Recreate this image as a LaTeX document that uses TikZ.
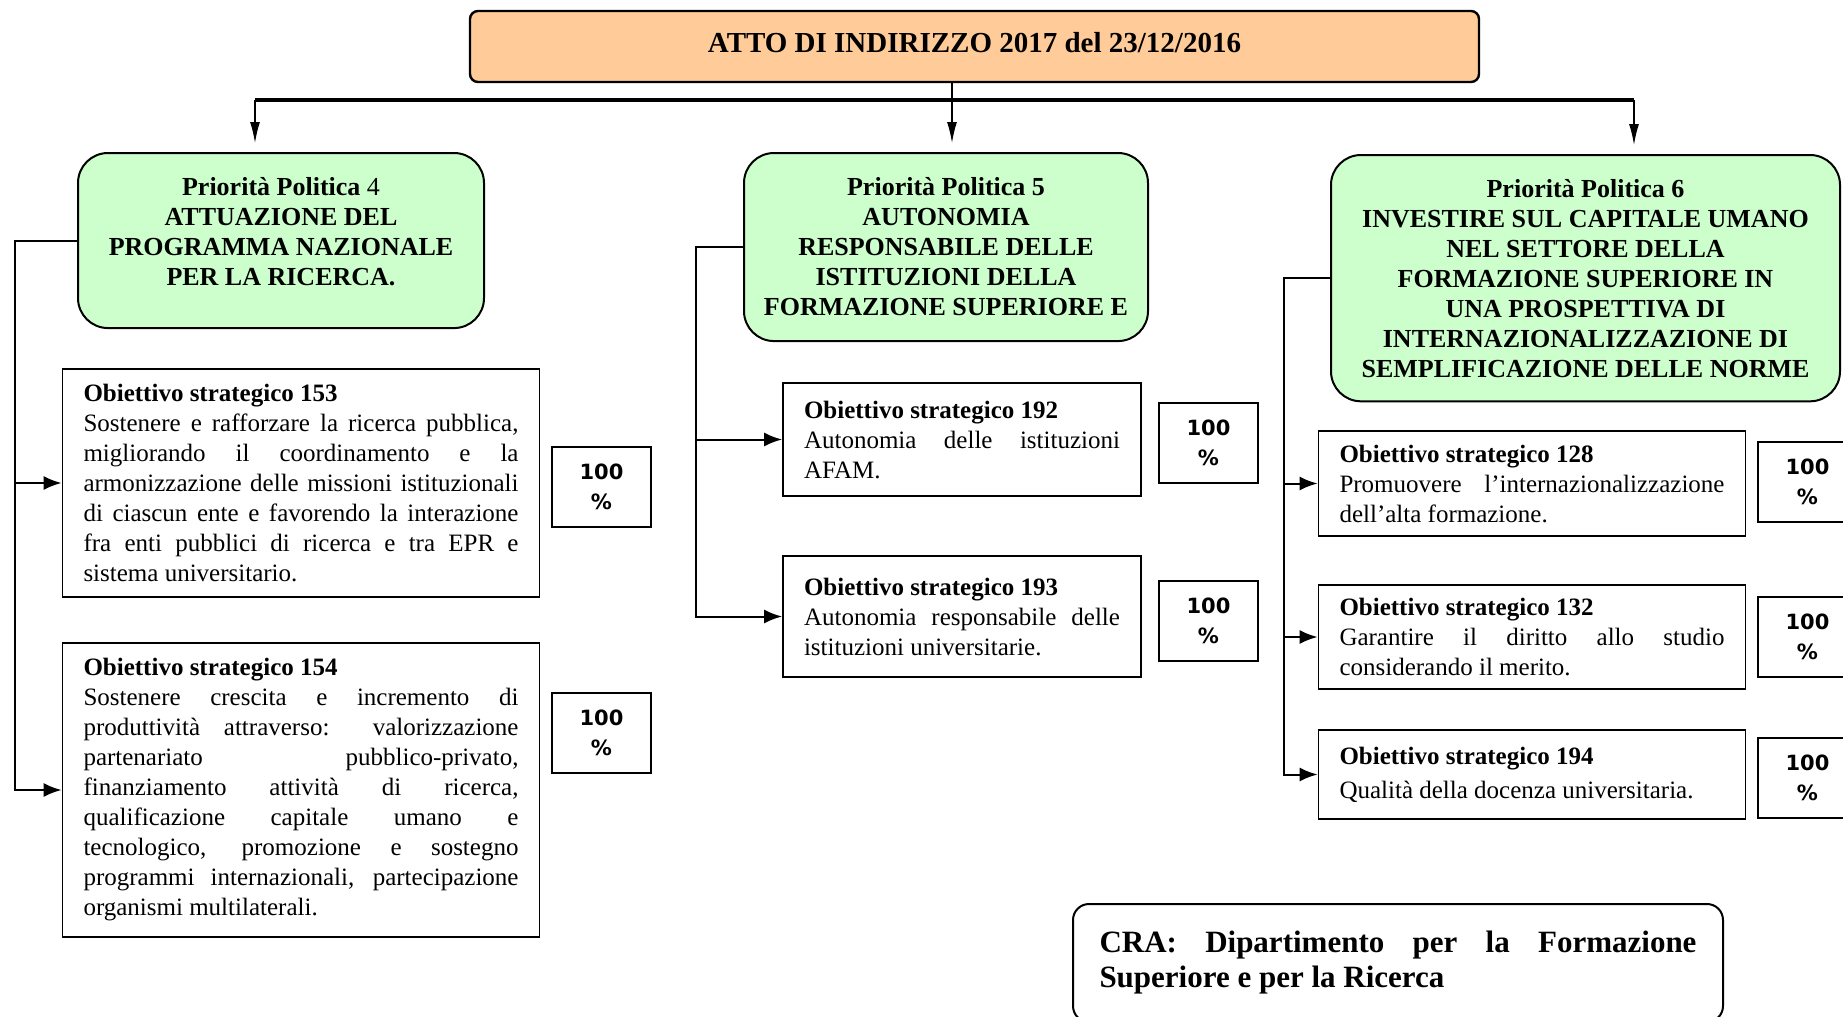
\documentclass[tikz,border=0pt]{standalone}
\usepackage{fontspec}
\setmainfont{Liberation Serif}
\newfontfamily\pctfont{DejaVu Sans}
\usetikzlibrary{arrows.meta,positioning}
\definecolor{peach}{HTML}{FFCC99}
\definecolor{mint}{HTML}{CCFFCC}
\newcommand{\gapbelow}[1]{\rule[-#1]{0pt}{#1}}

\begin{document}
\begin{tikzpicture}
  [
  x=0.5pt, y=-0.5pt, line width=1pt, draw=black,
  titlebox/.style={rectangle, rounded corners=4pt, draw=black, line width=1.2pt, fill=peach, minimum width=504.5pt, minimum height=35.5pt, font=\fontsize{14.5}{17}\selectfont\bfseries},
  prio/.style={rectangle, rounded corners=15pt, draw=black, fill=mint, align=center, anchor=north, inner xsep=4pt, inner ysep=12pt, font=\fontsize{13}{15}\selectfont\bfseries},
  goal/.style={rectangle, draw=black, line width=0.9pt, text width=#1, align=justify, inner xsep=10.5pt, font=\fontsize{12.5}{15}\selectfont},
  pct/.style={rectangle, draw=black, line width=1pt, minimum width=49.5pt, minimum height=40pt, align=center, font=\pctfont\bfseries\fontsize{10.5}{15}\selectfont},
  cra/.style={rectangle, rounded corners=8pt, draw=black, minimum width=325pt, minimum height=59pt, text width=298.5pt, align=justify, font=\fontsize{15.5}{17.5}\selectfont\bfseries},
  drop/.style={-{Latex[length=10.5pt,width=5pt]}, line width=0.7pt, shorten >=4.5pt},
  conn/.style={-{Latex[length=9pt,width=7pt]}, line width=1pt}
  ]
\useasboundingbox (0,0) rectangle (1843,1017);

\node[titlebox] (title) at (974.5,46.5) {ATTO DI INDIRIZZO 2017 del 23/12/2016\gapbelow{4.5pt}};

% priorita politiche
\node[prio, minimum width=203pt] (pp4) at (281,152)
  {Priorità Politica \textmd{4}\\ATTUAZIONE DEL\\PROGRAMMA NAZIONALE\\PER LA RICERCA.\gapbelow{9.5pt}};
\node[prio, minimum width=202pt] (pp5) at (946,152)
  {Priorità Politica 5\\AUTONOMIA\\RESPONSABILE DELLE\\ISTITUZIONI DELLA\\FORMAZIONE SUPERIORE E\gapbelow{1pt}};
\node[prio, minimum width=254.5pt] (pp6) at (1585.5,154)
  {Priorità Politica 6\\INVESTIRE SUL CAPITALE UMANO\\NEL SETTORE DELLA\\FORMAZIONE SUPERIORE IN\\UNA PROSPETTIVA DI\\INTERNAZIONALIZZAZIONE DI\\SEMPLIFICAZIONE DELLE NORME};

% obiettivi strategici
\node[goal=217.5pt, minimum height=114pt] (obj153) at (301,483)
  {\textbf{Obiettivo strategico 153}\\Sostenere e rafforzare la ricerca pubblica,\linebreak migliorando il coordinamento e la\linebreak armonizzazione delle missioni istituzionali\linebreak di ciascun ente e favorendo la interazione\linebreak fra enti pubblici di ricerca e tra EPR e\linebreak sistema universitario.};
\node[goal=217.5pt, minimum height=147pt] (obj154) at (301,790)
  {\textbf{Obiettivo strategico 154}\\Sostenere crescita e incremento di\linebreak produttività attraverso: valorizzazione\linebreak partenariato pubblico-privato,\linebreak finanziamento attività di ricerca,\linebreak qualificazione capitale umano e\linebreak tecnologico, promozione e sostegno\linebreak programmi internazionali, partecipazione\linebreak organismi multilaterali.};
\node[goal=158pt, minimum height=56.5pt] (obj192) at (962,439.5)
  {\textbf{Obiettivo strategico 192}\\Autonomia delle istituzioni\linebreak AFAM.};
\node[goal=158pt, minimum height=60.5pt] (obj193) at (962,616.5)
  {\textbf{Obiettivo strategico 193}\\Autonomia responsabile delle\linebreak istituzioni universitarie.};
\node[goal=192.5pt, minimum height=52.5pt] (obj128) at (1532,483.5)
  {\textbf{Obiettivo strategico 128}\\Promuovere l’internazionalizzazione\linebreak dell’alta formazione.};
\node[goal=192.5pt, minimum height=52pt] (obj132) at (1532,637)
  {\textbf{Obiettivo strategico 132}\\Garantire il diritto allo studio\linebreak considerando il merito.};
\node[goal=192.5pt, minimum height=44.5pt] (obj194) at (1532,774.5)
  {\textbf{Obiettivo strategico 194}\\[2pt]Qualità della docenza universitaria.};

% percentuali
\node[pct] (pct153) at (601.5,487) {100\\\%};
\node[pct] (pct154) at (601.5,733) {100\\\%};
\node[pct] (pct192) at (1208.5,443) {100\\\%};
\node[pct] (pct193) at (1208.5,621) {100\\\%};
\node[pct] (pct128) at (1807.5,482) {100\\\%};
\node[pct] (pct132) at (1807.5,637) {100\\\%};
\node[pct] (pct194) at (1807.5,778) {100\\\%};

\node[cra] (cra) at (1398,963) {CRA: Dipartimento per la Formazione\linebreak Superiore e per la Ricerca};

% distribuzione dall'atto
\coordinate (bus4) at (255,100);
\coordinate (bus5) at (952,100);
\coordinate (bus6) at (1634,100);
\draw[line width=1.8pt] (bus4) -- (bus6);
\draw[drop] (title.south -| bus5) -- (bus5 |- pp5.north);
\draw[drop] (bus4) -- (bus4 |- pp4.north);
\draw[drop] (bus6) -- (bus6 |- pp6.north);

% collegamenti agli obiettivi
\coordinate (side4) at (15,0);
\coordinate (side5) at (696,0);
\coordinate (side6) at (1284,0);
\draw[conn] (pp4.west) -- (side4 |- pp4.west) |- (obj154.west);
\draw[conn] (side4 |- obj153.west) -- (obj153.west);
\draw[conn] (pp5.west) -- (side5 |- pp5.west) |- (obj193.west);
\draw[conn] (side5 |- obj192.west) -- (obj192.west);
\draw[conn] (pp6.west) -- (side6 |- pp6.west) |- (obj194.west);
\draw[conn] (side6 |- obj128.west) -- (obj128.west);
\draw[conn] (side6 |- obj132.west) -- (obj132.west);
\end{tikzpicture}
\end{document}
